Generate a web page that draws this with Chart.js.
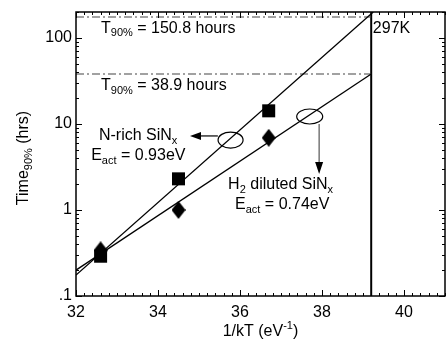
<!DOCTYPE html>
<html>
<head>
<meta charset="utf-8">
<script src="https://cdn.jsdelivr.net/npm/chart.js@4.4.1/dist/chart.umd.min.js"></script>
<style>
  html, body { margin:0; padding:0; background:#fff; }
  #wrap { width:446px; height:341px; }
</style>
</head>
<body>
<div id="wrap"><canvas id="c" width="446" height="341"></canvas></div>
<script>
// ---- data ----
const xTicks = [32, 34, 36, 38, 40];
const yTicks = [0.1, 1, 10, 100];
const yTickLabels = ['.1', '1', '10', '100'];
const invKT = [32.6, 34.5, 36.7];
const nRichTime = [0.29, 2.3, 14.2];
const h2Time = [0.34, 1.0, 6.9];
const nRichFitX = [32, 39.25];
const nRichFitY = [0.175, 200];
const h2FitX = [32, 39.2];
const h2FitY = [0.2, 38.1];
const roomTempInvKT = 39.2;
const t90Levels = [175, 38.1];
const xRange = [32, 41];
const yRange = [0.1, 200];

const FONT = '"Liberation Sans", Arial, sans-serif';
const FS = 16;

function pts(xs, ys) { return xs.map((x, i) => ({ x: x, y: ys[i] })); }

// diamond marker
const diamond = document.createElement('canvas');
diamond.width = 14; diamond.height = 18;
(function () {
  const g = diamond.getContext('2d');
  g.fillStyle = '#000';
  g.beginPath();
  g.moveTo(7, 0); g.lineTo(14, 9); g.lineTo(7, 18); g.lineTo(0, 9);
  g.closePath(); g.fill();
})();

function drawRich(ctx, parts, x, y, align, size) {
  const sm = Math.round(size * 0.68);
  let w = 0;
  parts.forEach(p => {
    ctx.font = (p.sub || p.sup ? sm : size) + 'px ' + FONT;
    p.w = ctx.measureText(p.t).width;
    w += p.w;
  });
  let cx = align === 'center' ? x - w / 2 : x;
  ctx.textAlign = 'left';
  ctx.textBaseline = 'middle';
  parts.forEach(p => {
    ctx.font = (p.sub || p.sup ? sm : size) + 'px ' + FONT;
    const dy = p.sub ? size * 0.3 : (p.sup ? -size * 0.38 : 0);
    ctx.fillText(p.t, cx, y + dy);
    cx += p.w;
  });
}

function arrowHead(ctx, x, y, dir, len, half) {
  ctx.beginPath();
  if (dir === 'left') {
    ctx.moveTo(x, y); ctx.lineTo(x + len, y - half); ctx.lineTo(x + len, y + half);
  } else {
    ctx.moveTo(x, y); ctx.lineTo(x - half, y - len); ctx.lineTo(x + half, y - len);
  }
  ctx.closePath(); ctx.fill();
}

const overlay = {
  id: 'overlay',
  afterDatasetsDraw(chart) {
    const ctx = chart.ctx;
    const xs = chart.scales.x, ys = chart.scales.y;
    const a = chart.chartArea;
    const X = v => xs.getPixelForValue(v);
    const Y = v => ys.getPixelForValue(v);
    ctx.save();
    // frame
    ctx.strokeStyle = '#000';
    ctx.lineWidth = 1.5;
    ctx.strokeRect(a.left, a.top, a.right - a.left, a.bottom - a.top);
    // inward ticks
    ctx.lineWidth = 1;
    ctx.beginPath();
    for (let i = 0; i <= 45; i++) {
      const v = xRange[0] + i * 0.2;
      const px = Math.round(X(v)) + 0.5;
      const L = (i % 10 === 0) ? 6 : 3;
      ctx.moveTo(px, a.bottom); ctx.lineTo(px, a.bottom - L);
      ctx.moveTo(px, a.top); ctx.lineTo(px, a.top + L);
    }
    yTicks.forEach(d => {
      for (let m = 1; m <= 9; m++) {
        const v = d * m;
        if (v > yRange[1]) break;
        const py = Math.round(Y(v)) + 0.5;
        const L = m === 1 ? 6 : 3;
        ctx.moveTo(a.left, py); ctx.lineTo(a.left + L, py);
        ctx.moveTo(a.right, py); ctx.lineTo(a.right - L, py);
      }
    });
    ctx.stroke();

    // annotations
    ctx.fillStyle = '#000';
    drawRich(ctx, [{ t: 'T' }, { t: '90%', sub: true }, { t: ' = 150.8 hours' }], X(32.61), Y(130), 'left', FS);
    drawRich(ctx, [{ t: 'T' }, { t: '90%', sub: true }, { t: ' = 38.9 hours' }], X(32.61), Y(27.7), 'left', FS);
    drawRich(ctx, [{ t: '297K' }], X(39.24), Y(130), 'left', FS);
    drawRich(ctx, [{ t: 'N-rich SiN' }, { t: 'x', sub: true }], X(32.56), Y(7.25), 'left', FS);
    drawRich(ctx, [{ t: 'E' }, { t: 'act', sub: true }, { t: ' = 0.93eV' }], X(32.37), Y(4.25), 'left', FS);
    drawRich(ctx, [{ t: 'H' }, { t: '2', sub: true }, { t: ' diluted SiN' }, { t: 'x', sub: true }], X(35.71), Y(1.95), 'left', FS);
    drawRich(ctx, [{ t: 'E' }, { t: 'act', sub: true }, { t: ' = 0.74eV' }], X(35.88), Y(1.14), 'left', FS);

    // ellipses
    ctx.lineWidth = 1.2;
    ctx.strokeStyle = '#000';
    ctx.beginPath();
    ctx.ellipse(X(35.77), Y(6.5), 12.5, 8, 0, 0, Math.PI * 2);
    ctx.stroke();
    ctx.beginPath();
    ctx.ellipse(X(37.7), Y(12.2), 13, 7.5, 0, 0, Math.PI * 2);
    ctx.stroke();

    // arrow 1 (horizontal, to the left)
    ctx.beginPath();
    ctx.moveTo(X(35.46), Y(7.25)); ctx.lineTo(X(34.9), Y(7.25));
    ctx.stroke();
    arrowHead(ctx, X(34.78), Y(7.25), 'left', 11, 4);

    // arrow 2 (vertical, downward, gray)
    ctx.strokeStyle = '#555'; ctx.fillStyle = '#000';
    ctx.beginPath();
    ctx.moveTo(X(37.93), Y(10.0)); ctx.lineTo(X(37.93), Y(3.0));
    ctx.stroke();
    arrowHead(ctx, X(37.93), Y(2.62), 'down', 12, 4);

    // axis titles
    ctx.fillStyle = '#000';
    drawRich(ctx, [{ t: '1/kT (eV' }, { t: '-1', sup: true }, { t: ')' }], (a.left + a.right) / 2, chart.height - 9, 'center', FS);
    ctx.save();
    ctx.translate(24, (a.top + a.bottom) / 2 + 4);
    ctx.rotate(-Math.PI / 2);
    drawRich(ctx, [{ t: 'Time' }, { t: '90%', sub: true }, { t: ' (hrs)' }], 0, 0, 'center', FS);
    ctx.restore();
    ctx.restore();
  }
};

new Chart(document.getElementById('c'), {
  type: 'scatter',
  data: {
    datasets: [
      { label: 'N-rich', data: pts(invKT, nRichTime), pointStyle: 'rect', pointRadius: 9.2, backgroundColor: '#000', borderColor: '#000', borderWidth: 0 },
      { label: 'H2 diluted', data: pts(invKT, h2Time), pointStyle: diamond, pointRadius: 9, backgroundColor: '#000', borderColor: '#000' },
      { label: 'N-rich fit', data: pts(nRichFitX, nRichFitY), showLine: true, pointRadius: 0, borderColor: '#000', borderWidth: 1.3 },
      { label: 'H2 fit', data: pts(h2FitX, h2FitY), showLine: true, pointRadius: 0, borderColor: '#000', borderWidth: 1.3 },
      { label: 'T90 150.8', data: pts([xRange[0], roomTempInvKT], [t90Levels[0], t90Levels[0]]), showLine: true, pointRadius: 0, borderColor: '#444', borderWidth: 1.1, borderDash: [8, 3, 2, 3] },
      { label: 'T90 38.9', data: pts([xRange[0], roomTempInvKT], [t90Levels[1], t90Levels[1]]), showLine: true, pointRadius: 0, borderColor: '#444', borderWidth: 1.1, borderDash: [8, 3, 2, 3] },
      { label: '297K', data: pts([roomTempInvKT, roomTempInvKT], yRange), showLine: true, pointRadius: 0, borderColor: '#000', borderWidth: 2 }
    ]
  },
  options: {
    responsive: false,
    animation: false,
    events: [],
    layout: { autoPadding: false, padding: { top: 12, right: 1, left: 0, bottom: 0 } },
    plugins: { legend: { display: false }, tooltip: { enabled: false } },
    scales: {
      x: {
        type: 'linear', min: xRange[0], max: xRange[1],
        afterBuildTicks: s => { s.ticks = xTicks.map(v => ({ value: v })); },
        afterFit: s => { s.height = 45; s.paddingLeft = 0; s.paddingRight = 0; },
        grid: { display: false, drawTicks: false },
        border: { display: false },
        ticks: { color: '#000', padding: 7, font: { family: FONT, size: FS }, maxRotation: 0, callback: v => String(v) }
      },
      y: {
        type: 'logarithmic', min: yRange[0], max: yRange[1],
        afterBuildTicks: s => { s.ticks = yTicks.map(v => ({ value: v })); },
        afterFit: s => { s.width = 76; s.paddingTop = 0; s.paddingBottom = 0; },
        grid: { display: false, drawTicks: false },
        border: { display: false },
        ticks: { color: '#000', padding: 4, font: { family: FONT, size: FS }, callback: v => yTickLabels[yTicks.indexOf(v)] }
      }
    }
  },
  plugins: [overlay]
});
</script>
</body>
</html>
